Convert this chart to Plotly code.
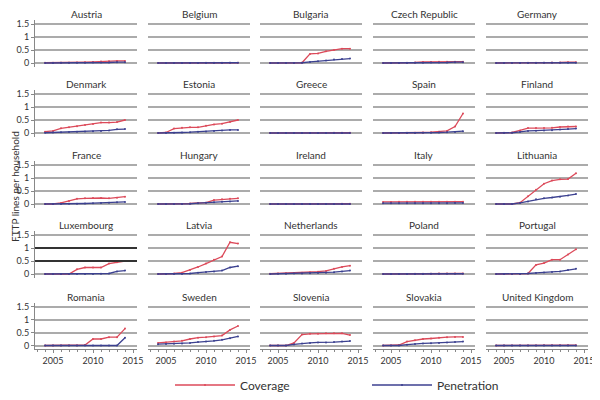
import plotly.graph_objects as go
from plotly.subplots import make_subplots

years = list(range(2004, 2015))

countries = [
    "Austria", "Belgium", "Bulgaria", "Czech Republic", "Germany",
    "Denmark", "Estonia", "Greece", "Spain", "Finland",
    "France", "Hungary", "Ireland", "Italy", "Lithuania",
    "Luxembourg", "Latvia", "Netherlands", "Poland", "Portugal",
    "Romania", "Sweden", "Slovenia", "Slovakia", "United Kingdom",
]

coverage = {
    "Austria":        [0.01, 0.01, 0.01, 0.01, 0.02, 0.03, 0.04, 0.06, 0.07, 0.08, 0.08],
    "Belgium":        [0.00, 0.00, 0.00, 0.00, 0.00, 0.00, 0.01, 0.01, 0.01, 0.01, 0.01],
    "Bulgaria":       [0.00, 0.00, 0.00, 0.00, 0.01, 0.35, 0.37, 0.45, 0.50, 0.55, 0.55],
    "Czech Republic": [0.00, 0.00, 0.00, 0.01, 0.02, 0.04, 0.04, 0.05, 0.05, 0.05, 0.05],
    "Germany":        [0.00, 0.00, 0.00, 0.00, 0.01, 0.01, 0.01, 0.02, 0.02, 0.03, 0.03],
    "Denmark":        [0.05, 0.08, 0.18, 0.22, 0.26, 0.31, 0.35, 0.40, 0.40, 0.42, 0.50],
    "Estonia":        [0.00, 0.02, 0.17, 0.20, 0.22, 0.22, 0.28, 0.33, 0.36, 0.42, 0.50],
    "Greece":         [0.00, 0.00, 0.00, 0.00, 0.00, 0.00, 0.00, 0.00, 0.01, 0.01, 0.01],
    "Spain":          [0.00, 0.00, 0.00, 0.01, 0.01, 0.02, 0.03, 0.05, 0.08, 0.25, 0.75],
    "Finland":        [0.00, 0.01, 0.02, 0.10, 0.19, 0.19, 0.19, 0.20, 0.23, 0.25, 0.25],
    "France":         [0.00, 0.00, 0.04, 0.12, 0.20, 0.22, 0.23, 0.23, 0.22, 0.24, 0.28],
    "Hungary":        [0.00, 0.00, 0.00, 0.00, 0.02, 0.04, 0.05, 0.15, 0.18, 0.20, 0.22],
    "Ireland":        [0.00, 0.00, 0.00, 0.00, 0.00, 0.00, 0.00, 0.00, 0.00, 0.01, 0.01],
    "Italy":          [0.08, 0.08, 0.09, 0.09, 0.09, 0.09, 0.09, 0.09, 0.09, 0.09, 0.09],
    "Lithuania":      [0.00, 0.00, 0.00, 0.05, 0.30, 0.55, 0.78, 0.90, 0.95, 0.96, 1.18],
    "Luxembourg":     [0.00, 0.00, 0.00, 0.00, 0.18, 0.25, 0.25, 0.25, 0.40, 0.45, 0.50],
    "Latvia":         [0.00, 0.00, 0.02, 0.05, 0.15, 0.27, 0.40, 0.55, 0.67, 1.22, 1.17],
    "Netherlands":    [0.01, 0.02, 0.03, 0.04, 0.05, 0.07, 0.09, 0.12, 0.20, 0.27, 0.32],
    "Poland":         [0.00, 0.00, 0.00, 0.00, 0.01, 0.01, 0.01, 0.02, 0.02, 0.02, 0.02],
    "Portugal":       [0.00, 0.00, 0.00, 0.00, 0.02, 0.35, 0.42, 0.55, 0.55, 0.75, 0.95],
    "Romania":        [0.00, 0.00, 0.00, 0.00, 0.00, 0.02, 0.25, 0.25, 0.32, 0.32, 0.65],
    "Sweden":         [0.10, 0.12, 0.15, 0.18, 0.25, 0.30, 0.32, 0.35, 0.38, 0.60, 0.75],
    "Slovenia":       [0.00, 0.00, 0.00, 0.10, 0.42, 0.45, 0.45, 0.47, 0.47, 0.47, 0.40],
    "Slovakia":       [0.00, 0.00, 0.02, 0.15, 0.20, 0.25, 0.27, 0.30, 0.32, 0.33, 0.33],
    "United Kingdom": [0.00, 0.00, 0.00, 0.00, 0.00, 0.00, 0.01, 0.01, 0.01, 0.01, 0.01],
}

penetration = {
    "Austria":        [0.00, 0.00, 0.01, 0.01, 0.01, 0.01, 0.02, 0.02, 0.02, 0.03, 0.03],
    "Belgium":        [0.00, 0.00, 0.00, 0.00, 0.00, 0.00, 0.00, 0.00, 0.00, 0.01, 0.01],
    "Bulgaria":       [0.00, 0.00, 0.00, 0.00, 0.01, 0.04, 0.07, 0.10, 0.13, 0.15, 0.17],
    "Czech Republic": [0.00, 0.00, 0.00, 0.00, 0.01, 0.01, 0.02, 0.02, 0.02, 0.03, 0.03],
    "Germany":        [0.00, 0.00, 0.00, 0.00, 0.00, 0.00, 0.01, 0.01, 0.01, 0.01, 0.01],
    "Denmark":        [0.01, 0.02, 0.03, 0.04, 0.05, 0.06, 0.07, 0.08, 0.10, 0.14, 0.15],
    "Estonia":        [0.00, 0.00, 0.01, 0.02, 0.03, 0.05, 0.06, 0.08, 0.10, 0.12, 0.12],
    "Greece":         [0.00, 0.00, 0.00, 0.00, 0.00, 0.00, 0.00, 0.00, 0.00, 0.00, 0.00],
    "Spain":          [0.00, 0.00, 0.00, 0.00, 0.00, 0.01, 0.01, 0.02, 0.03, 0.04, 0.07],
    "Finland":        [0.00, 0.00, 0.01, 0.04, 0.08, 0.09, 0.10, 0.11, 0.13, 0.15, 0.17],
    "France":         [0.00, 0.00, 0.00, 0.01, 0.01, 0.02, 0.03, 0.04, 0.05, 0.07, 0.08],
    "Hungary":        [0.00, 0.00, 0.00, 0.00, 0.01, 0.03, 0.05, 0.07, 0.09, 0.10, 0.12],
    "Ireland":        [0.00, 0.00, 0.00, 0.00, 0.00, 0.00, 0.00, 0.00, 0.00, 0.00, 0.00],
    "Italy":          [0.03, 0.03, 0.03, 0.03, 0.03, 0.03, 0.03, 0.03, 0.03, 0.04, 0.04],
    "Lithuania":      [0.00, 0.00, 0.00, 0.04, 0.10, 0.18, 0.22, 0.25, 0.28, 0.33, 0.38],
    "Luxembourg":     [0.00, 0.00, 0.00, 0.00, 0.00, 0.00, 0.00, 0.01, 0.02, 0.10, 0.13],
    "Latvia":         [0.00, 0.00, 0.00, 0.00, 0.02, 0.05, 0.08, 0.10, 0.13, 0.25, 0.30],
    "Netherlands":    [0.00, 0.01, 0.01, 0.02, 0.02, 0.03, 0.04, 0.05, 0.07, 0.10, 0.13],
    "Poland":         [0.00, 0.00, 0.00, 0.00, 0.00, 0.00, 0.01, 0.01, 0.01, 0.01, 0.01],
    "Portugal":       [0.00, 0.00, 0.00, 0.00, 0.02, 0.04, 0.06, 0.08, 0.10, 0.15, 0.20],
    "Romania":        [0.00, 0.00, 0.00, 0.00, 0.00, 0.00, 0.00, 0.00, 0.00, 0.00, 0.30],
    "Sweden":         [0.05, 0.06, 0.07, 0.08, 0.10, 0.13, 0.15, 0.18, 0.22, 0.28, 0.35],
    "Slovenia":       [0.00, 0.00, 0.00, 0.04, 0.08, 0.10, 0.12, 0.12, 0.13, 0.15, 0.17],
    "Slovakia":       [0.00, 0.00, 0.00, 0.03, 0.06, 0.08, 0.09, 0.10, 0.12, 0.13, 0.15],
    "United Kingdom": [0.00, 0.00, 0.00, 0.00, 0.00, 0.00, 0.00, 0.00, 0.00, 0.00, 0.00],
}

y_ticks = [0, 0.5, 1, 1.5]
y_ticklabels = ["0", "0.5", "1", "1.5"]
x_ticks = [2005, 2010, 2015]

RED = "#dc4a5a"
BLUE = "#3c4190"
GRID = "#ababab"
FONT = "Lato"

W, H = 600, 400
OFF = 8  # page offset of the figure inside the browser window
col_left = [35, 148, 260, 373, 486]
panel_w = 102
zero_y = [63, 133, 204, 274, 345.5]
unit = 26.0
y_lo, y_hi = -0.15, 1.65


def px_x(p):
    return (p - OFF) / W


def px_y(p):
    return 1 - (p - OFF) / H


fig = make_subplots(rows=5, cols=5)

for i, c in enumerate(countries):
    r, k = divmod(i, 5)
    fig.add_trace(go.Scatter(
        x=years, y=coverage[c], mode="lines+markers", name="Coverage",
        line=dict(color=RED, width=1.3), marker=dict(size=2, color=RED),
        showlegend=(i == 0), legendgroup="cov"), row=r + 1, col=k + 1)
    fig.add_trace(go.Scatter(
        x=years, y=penetration[c], mode="lines+markers", name="Penetration",
        line=dict(color=BLUE, width=1.3), marker=dict(size=2, color=BLUE),
        showlegend=(i == 0), legendgroup="pen"), row=r + 1, col=k + 1)

annotations = []
for i, c in enumerate(countries):
    r, k = divmod(i, 5)
    idx = "" if i == 0 else str(i + 1)
    top = zero_y[r] - y_hi * unit
    bot = zero_y[r] - y_lo * unit
    fig.layout["xaxis" + idx].update(
        domain=[px_x(col_left[k]), px_x(col_left[k] + panel_w)], range=[2002.75, 2015.5],
        showgrid=False, zeroline=False, automargin=False,
        showline=(r == 4), linecolor="#888888", linewidth=1,
        ticks="outside" if r == 4 else "", ticklen=3, tickcolor="#888888",
        tickvals=x_ticks, showticklabels=(r == 4),
        tickfont=dict(size=9, color="#333333", family=FONT),
        minor=dict(dtick=1, tick0=2004, ticks="outside" if r == 4 else "", ticklen=2, tickcolor="#888888"),
    )
    fig.layout["yaxis" + idx].update(
        domain=[px_y(bot), px_y(top)], range=[y_lo, y_hi], automargin=False,
        tickvals=y_ticks, ticktext=y_ticklabels, showgrid=True, gridcolor=GRID, gridwidth=1.5,
        zeroline=False, showline=(k == 0), linecolor="#888888", linewidth=1,
        ticks="outside" if k == 0 else "", ticklen=3, tickcolor="#888888",
        showticklabels=(k == 0), tickfont=dict(size=9, color="#333333", family=FONT),
    )
    annotations.append(dict(
        text=c, x=px_x(col_left[k] + panel_w / 2), y=px_y(top - 6),
        xref="paper", yref="paper", xanchor="center", yanchor="middle",
        showarrow=False, font=dict(size=10, color="#333333", family=FONT)))

annotations.append(dict(
    text="FTTP lines per household", x=0, y=px_y(187), xref="paper", yref="paper",
    textangle=-90, showarrow=False, xanchor="left", yanchor="middle", borderpad=0,
    font=dict(size=10, color="#333333", family=FONT)))

# darker gridlines seen in the Luxembourg panel
shapes = []
for v in (0.5, 1):
    shapes.append(dict(type="line", xref="x16 domain", yref="y16", x0=0, x1=1, y0=v, y1=v,
                       line=dict(color="#333333", width=1.8), layer="above"))

fig.update_layout(
    width=W, height=H, margin=dict(l=0, r=0, t=0, b=0, autoexpand=False),
    paper_bgcolor="white", plot_bgcolor="white",
    annotations=annotations, shapes=shapes,
    legend=dict(orientation="h", x=px_x(170), y=px_y(385), xanchor="left", yanchor="middle",
                font=dict(size=12, color="#333333", family=FONT), itemwidth=60,
                entrywidth=122, bgcolor="rgba(0,0,0,0)"),
    font=dict(family=FONT),
)

fig.write_html("out.html")
